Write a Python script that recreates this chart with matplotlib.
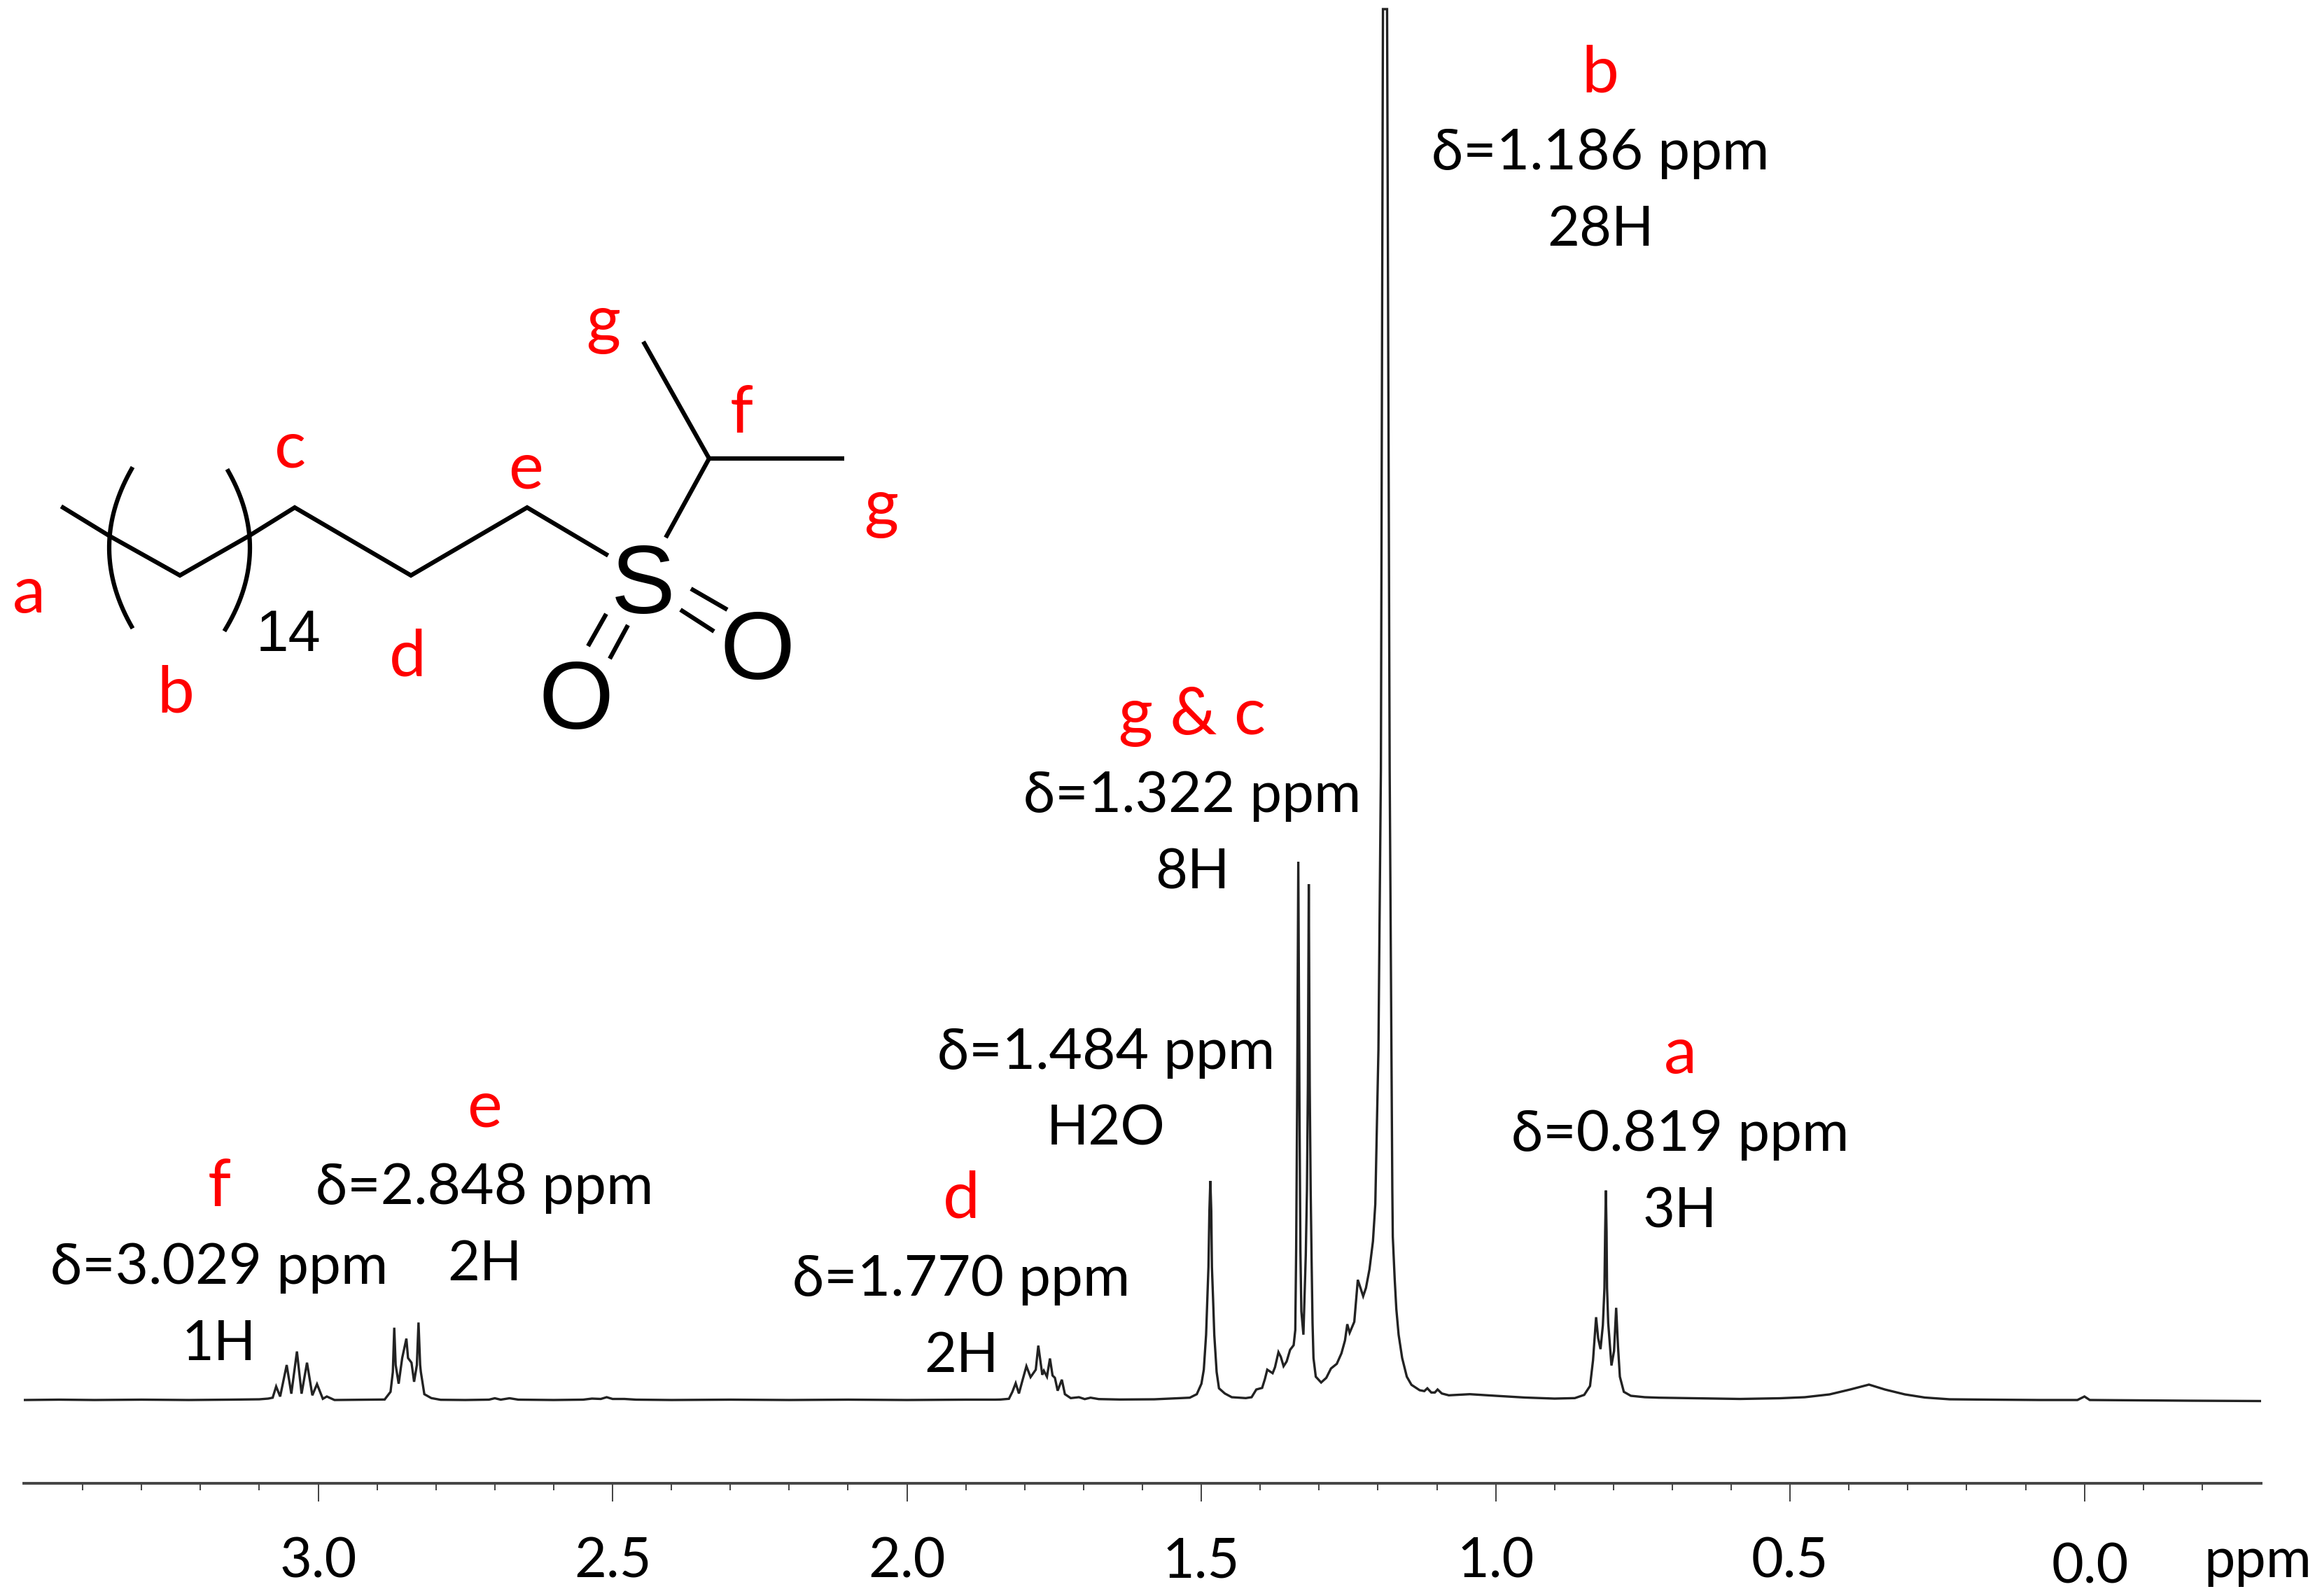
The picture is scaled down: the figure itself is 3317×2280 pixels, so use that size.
import numpy as np
import matplotlib
matplotlib.use('Agg')
import matplotlib.pyplot as plt
from matplotlib.transforms import ScaledTranslation

plt.rcParams['font.family'] = ['Lato', 'Open Sans', 'DejaVu Sans']

W, H = 3317, 2280
DPI = 100
PT = 72 / DPI  # points per pixel

# spectrum, regions from high to low ppm
left_ppm = [3.50, 3.44, 3.38, 3.30, 3.22, 3.15, 3.10, 3.085]
left_int = [0, 0.5, 0, 0.5, 0, 0.5, 1, 2]

f_ppm = [3.0773, 3.0714, 3.0646, 3.0535, 3.0456, 3.0361, 3.0282, 3.0190, 3.0099, 3.0020, 2.9921, 2.9853, 2.9723]
f_int = [3.3, 19.3, 5, 50, 9, 69.3, 9, 53.3, 6.7, 22.7, 1.7, 5, 0]

e_ppm = [2.8871, 2.8771, 2.8732, 2.8720, 2.8708, 2.8684, 2.8633, 2.8573, 2.8502, 2.8474, 2.8415, 2.8371, 2.8324,
         2.8296, 2.8268, 2.8256, 2.8197, 2.8078, 2.7920]
e_int = [0.7, 11.7, 40, 70, 103.3, 50, 23.3, 60, 87.7, 60, 53.3, 26, 50,
         110.7, 50, 40, 8.3, 2.7, 0.3]

mid_ppm = [2.75, 2.71, 2.70, 2.69, 2.675, 2.66, 2.60, 2.55, 2.535, 2.52, 2.51, 2.50, 2.48, 2.46, 2.40, 2.30, 2.20, 2.10, 2.00, 1.90, 1.85]
mid_int = [0, 0.5, 2.5, 0.5, 2.5, 0.5, 0, 0.5, 2, 1.5, 4, 1.5, 1.5, 0.5, 0, 0.5, 0, 0.5, 0, 0.5, 0.5]

d_ppm = [1.8407, 1.8268, 1.8209, 1.8153, 1.8098, 1.8042, 1.7971, 1.7900, 1.7812, 1.7769, 1.7701, 1.7674, 1.7622,
         1.7571, 1.7527, 1.7487, 1.7440, 1.7369, 1.7317, 1.7218, 1.7079, 1.6980, 1.6881, 1.6742, 1.6386, 1.58]
d_int = [0.7, 1.7, 11.7, 24, 9.3, 26.7, 48.3, 32.7, 43.3, 77.7, 36, 41.7, 33.3,
         59.3, 35, 31.7, 13.3, 29, 8.3, 2.7, 4, 1.3, 3.3, 1.3, 0.7, 1]

water_ppm = [1.5196, 1.5077, 1.4998, 1.4958, 1.4919, 1.4899, 1.4879, 1.4863, 1.4847, 1.4831, 1.4820, 1.4800, 1.4780,
             1.4740, 1.4700, 1.4601, 1.4483, 1.4245, 1.4146]
water_int = [3.3, 8.3, 23.3, 43.3, 93.3, 143.3, 190, 270, 313, 270, 190, 143.3, 93.3,
             40, 16.7, 9.3, 4, 2.7, 4]

gc_ppm = [1.4066, 1.3967, 1.3920, 1.3880, 1.3789, 1.3749, 1.3690, 1.3650, 1.3603, 1.3551, 1.3492, 1.3432, 1.3404,
          1.3389, 1.3373, 1.3353, 1.3333, 1.3317, 1.3301, 1.3266, 1.3226, 1.3206, 1.3190, 1.3175, 1.3159, 1.3143,
          1.3127, 1.3111, 1.3095, 1.3056, 1.2965]
gc_int = [15, 17.3, 30, 43.3, 38.3, 46.7, 68.3, 61.7, 48.3, 55, 71.7, 78.3, 100,
          216.7, 420, 769, 420, 213, 126.7, 93.3, 206.7, 300, 450, 737, 450, 300,
          200, 110, 60, 33.3, 25]

b_ppm = [1.2877, 1.2798, 1.2699, 1.2620, 1.2560, 1.2521, 1.2481, 1.2402, 1.2374, 1.2342, 1.2251, 1.2204, 1.2144,
         1.2085, 1.2045, 1.1992, 1.1950, 1.1915, 1.1845, 1.1801, 1.1756, 1.1748, 1.1716, 1.1688, 1.1649, 1.1589,
         1.1510, 1.1431, 1.1292, 1.1213, 1.1161, 1.1094, 1.1034, 1.0987, 1.0915, 1.0797, 1.0440, 1.00, 0.95, 0.90]
b_int = [31.7, 45, 51.7, 66.7, 85, 108.3, 96, 111.7, 140, 171.7, 148.3, 160, 186.7,
         226.7, 280, 500, 900, 1987, 1987, 900, 300, 233.3, 173.3, 130, 93.3, 60,
         33.3, 21.7, 14, 12.7, 16.7, 10.7, 10.7, 15, 9.3, 6.7, 8.3, 6, 3.5, 2]

a_ppm = [0.8656, 0.8497, 0.8398, 0.8347, 0.8319, 0.8295, 0.8260, 0.8220, 0.8180, 0.8153, 0.8141, 0.8129, 0.8117, 0.8109,
         0.8089, 0.8034, 0.7990, 0.7954, 0.7923, 0.7891, 0.7824, 0.7705, 0.7467, 0.7229]
a_int = [2.7, 7.3, 20, 56.7, 90, 118.3, 88.3, 72.7, 106.7, 160, 240, 299.3, 240, 160,
         110, 49.3, 70, 131.7, 76.7, 33.3, 11.7, 6, 4, 3.3]

right_ppm = [0.585, 0.517, 0.475, 0.433, 0.398, 0.366, 0.339, 0.305, 0.271, 0.229, 0.161, 0.076, 0.012, 0.0, -0.009, -0.094, -0.179, -0.30]
right_int = [1.5, 2.5, 4, 8, 15, 22, 15, 8, 3.5, 1, 0.5, 0, 0, 5, 0, -0.5, -1, -1.5]

ppm = np.concatenate([left_ppm, f_ppm, e_ppm, mid_ppm, d_ppm, water_ppm, gc_ppm, b_ppm, a_ppm, right_ppm])
intensity = np.concatenate([left_int, f_int, e_int, mid_int, d_int, water_int, gc_int, b_int, a_int, right_int])

major_ticks = [3.0, 2.5, 2.0, 1.5, 1.0, 0.5, 0.0]
major_labels = ['3.0', '2.5', '2.0', '1.5', '1.0', '0.5', '0.0']
minor_ticks = [3.4, 3.3, 3.2, 3.1, 2.9, 2.8, 2.7, 2.6, 2.4, 2.3, 2.2, 2.1, 1.9, 1.8, 1.7, 1.6,
               1.4, 1.3, 1.2, 1.1, 0.9, 0.8, 0.7, 0.6, 0.4, 0.3, 0.2, 0.1, -0.1, -0.2]

# peak annotations: x centre, delta baseline, red label, delta line, last line
peak_x = [2286, 1703, 1580, 2400, 692, 313, 1373]
peak_y = [242, 1160, 1527, 1644, 1720, 1834, 1851]
peak_red = ['b', 'g & c', None, 'a', 'e', 'f', 'd']
peak_delta = ['δ=1.186 ppm', 'δ=1.322 ppm', 'δ=1.484 ppm', 'δ=0.819 ppm', 'δ=2.848 ppm', 'δ=3.029 ppm', 'δ=1.770 ppm']
peak_count = ['28H', '8H', 'H2O', '3H', '2H', '1H', '2H']

# structure, in picture pixels
chain_x = [90, 157, 257, 355, 421, 587, 753, 866]
chain_y = [725, 766, 822, 766, 725, 822, 725, 792]
bonds = [((951, 768), (1013, 655)), ((1013, 655), (919, 488)), ((1013, 655), (1206, 655)),
         ((987, 841), (1039, 871)), ((972, 871), (1020, 902)),
         ((866, 877), (840, 923)), ((897, 893), (871, 941))]
bracket_left = [(188, 670), (156, 784), (188, 895)]
bracket_right = [(326, 673), (357, 784), (322, 899)]
site_labels = ['a', 'b', 'c', 'd', 'e', 'f', 'g', 'g']
site_x = [41, 251, 415, 582, 751, 1059, 862, 1259]
site_y = [875, 1018, 667, 965, 697, 618, 488, 751]

fig = plt.figure(figsize=(W / DPI, H / DPI), dpi=DPI, facecolor='white')

# spectrum axes: x 34..3230 px is 3.5..-0.3 ppm, spine at y=2119 px, intensity 0 at y=2000 px
ax = fig.add_axes([34 / W, 1 - 2119 / H, (3230 - 34) / W, 2119 / H])
ax.plot(ppm, intensity, color='#222222', lw=2.4, solid_joinstyle='miter')
ax.set_xlim(3.5, -0.3)
ax.set_ylim(-119, 2000)
ax.patch.set_alpha(0)
for side in ['top', 'left', 'right']:
    ax.spines[side].set_visible(False)
ax.spines['bottom'].set_linewidth(2.8)
ax.spines['bottom'].set_color('#444444')
ax.set_yticks([])
ax.set_xticks(major_ticks)
ax.set_xticklabels(major_labels, fontsize=57)
ax.set_xticks(minor_ticks, minor=True)
ax.tick_params(axis='x', which='major', length=26 * PT, width=1.3, color='#333333', pad=50 * PT)
ax.tick_params(axis='x', which='minor', length=10 * PT, width=1.3, color='#333333')

# the 0.0 label sits a little lower and to the right in the original
zero_tick = ax.xaxis.get_major_ticks()[-1]
zero_tick.set_pad(59 * PT)
zero_tick.label1.set_transform(zero_tick.label1.get_transform() + ScaledTranslation(8 * PT / 72, 0, fig.dpi_scale_trans))

# overlay in picture pixels for the text and the structure
ov = fig.add_axes([0, 0, 1, 1])
ov.set_xlim(0, W)
ov.set_ylim(H, 0)
ov.axis('off')

ov.text(3225, 2253, 'ppm', fontsize=57, ha='center', va='baseline')

for x, y, red, delta, count in zip(peak_x, peak_y, peak_red, peak_delta, peak_count):
    if red:
        ov.text(x, y - 111, red, color='#ff0000', fontsize=68, ha='center', va='baseline')
    ov.text(x, y, delta, color='black', fontsize=59, ha='center', va='baseline')
    ov.text(x, y + 109, count, color='black', fontsize=57, ha='center', va='baseline')

ov.plot(chain_x, chain_y, color='black', lw=4.5, solid_joinstyle='miter')
for p, q in bonds:
    ov.plot([p[0], q[0]], [p[1], q[1]], color='black', lw=4.5, solid_capstyle='butt')

# brackets are drawn as parabolas through three read points
for pts in [bracket_left, bracket_right]:
    ys = [p[1] for p in pts]
    xs = [p[0] for p in pts]
    coef = np.polyfit(ys, xs, 2)
    yy = np.linspace(ys[0], ys[2], 40)
    ov.plot(np.polyval(coef, yy), yy, color='black', lw=4.5)

sans = ['Liberation Sans', 'DejaVu Sans']
ov.text(919, 826, 'S', family=sans, fontsize=99, ha='center', va='center_baseline')
ov.text(1082, 920, 'O', family=sans, fontsize=99, ha='center', va='center_baseline')
ov.text(823, 991, 'O', family=sans, fontsize=99, ha='center', va='center_baseline')
ov.text(412, 899, '14', family=sans, fontsize=60, ha='center', va='center_baseline')

for lab, x, y in zip(site_labels, site_x, site_y):
    ov.text(x, y, lab, color='#ff0000', fontsize=68, ha='center', va='baseline')

fig.savefig('out.png', dpi=DPI)
